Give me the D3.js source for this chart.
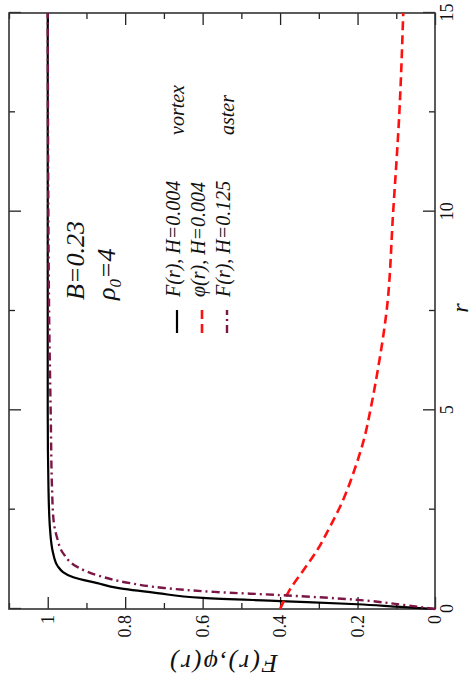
<!DOCTYPE html>
<html lang="en">
<head>
  <meta charset="UTF-8">
  <title>F(r), phi(r) profiles</title>
  <script src="https://d3js.org/d3.v7.min.js"></script>
  <style>
    body { margin: 0; background: #fff; }
    svg text { font-family: "Liberation Serif", "Times New Roman", serif; fill: #111; }
  </style>
</head>
<body>
  <div id="chart"></div>

  <script>
  // vortex, H=0.004 : F(r)
  const rVortex = [0, 0.06, 0.12, 0.2, 0.28, 0.4, 0.53, 0.65, 0.8, 1.06, 1.4, 2.0, 3.0, 5.0, 15];
  const fVortex = [0, 0.1, 0.2, 0.4, 0.6, 0.717, 0.82, 0.872, 0.934, 0.973, 0.986, 0.994, 0.998, 1.0, 1.0];

  // vortex, H=0.004 : phi(r)
  const rPhi = [0, 0.5, 1.0, 1.5, 2.0, 2.75, 3.5, 4.4, 5, 6, 7.5, 10, 12.5, 15];
  const phiVals = [0.40, 0.374, 0.338, 0.303, 0.275, 0.237, 0.208, 0.18, 0.167, 0.148, 0.125, 0.108, 0.092, 0.082];

  // aster, H=0.125 : F(r)
  const rAster = [0, 0.1, 0.23, 0.35, 0.43, 0.53, 0.65, 0.85, 1.06, 1.4, 1.8, 2.24, 3.07, 4.75, 8, 15];
  const fAster = [0, 0.08, 0.2, 0.4, 0.57, 0.70, 0.787, 0.872, 0.924, 0.96, 0.976, 0.985, 0.989, 0.992, 0.997, 1.0];

  const rMajor = [0, 5, 10, 15];
  const rMinor = [2.5, 7.5, 12.5];
  const fMajor = [0, 0.2, 0.4, 0.6, 0.8, 1];
  const fMinor = [0.1, 0.3, 0.5, 0.7, 0.9, 1.1];

  const legendLabels = ["F(r), H=0.004", "\u03c6(r), H=0.004", "F(r), H=0.125"];

  // the whole figure is drawn as a normal plot and then turned 90deg ccw
  const W = 596, H = 426;
  const svg = d3.select("#chart").append("svg")
    .attr("width", 474).attr("height", 686);

  const g = svg.append("g").attr("transform", "translate(9,609) rotate(-90)");

  const x = d3.scaleLinear().domain([0, 15]).range([0, W]);
  const y = d3.scaleLinear().domain([0, 1.1]).range([H, 0]);

  function ticks(axis, vals, size, labels) {
    return axis.tickValues(vals).tickSizeInner(-size).tickSizeOuter(0)
      .tickFormat(labels ? d3.format("~g") : "");
  }

  // bottom, top, left, right  (mirror ticks, labels only on bottom + left)
  const makers = [
    [() => d3.axisBottom(x), `translate(0,${H})`, 5, rMajor, rMinor, true],
    [() => d3.axisTop(x), "translate(0,0)", 5, rMajor, rMinor, false],
    [() => d3.axisLeft(y), "translate(0,0)", 6, fMajor, fMinor, true],
    [() => d3.axisRight(y), `translate(${W},0)`, 6, fMajor, fMinor, false]
  ];
  makers.forEach(([mk, tr, pad, maj, min, labels]) => {
    g.append("g").attr("transform", tr)
      .call(ticks(mk(), maj, 12, labels).tickPadding(pad));
    g.append("g").attr("transform", tr)
      .call(ticks(mk(), min, 6, false));
  });
  g.selectAll(".domain").remove();
  g.selectAll(".tick line").attr("stroke", "#222").attr("stroke-width", 1.3);
  g.selectAll(".tick text").attr("font-size", 18).attr("font-family", "Liberation Serif, serif").attr("fill", "#111");

  g.append("rect").attr("width", W).attr("height", H)
    .attr("fill", "none").attr("stroke", "#333").attr("stroke-width", 1.6);

  const line = d3.line().x(d => x(d[0])).y(d => y(d[1])).curve(d3.curveMonotoneX);

  const series = [
    { r: rVortex, v: fVortex, color: "#000000", width: 2.2, dash: null },
    { r: rPhi, v: phiVals, color: "#ff1010", width: 2.6, dash: "9,5" },
    { r: rAster, v: fAster, color: "#7b1646", width: 2.4, dash: "8,4,2,4" }
  ];

  series.forEach(s => {
    g.append("path")
      .datum(d3.zip(s.r, s.v))
      .attr("fill", "none")
      .attr("stroke", s.color)
      .attr("stroke-width", s.width)
      .attr("stroke-dasharray", s.dash)
      .attr("d", line);
  });

  // legend
  const leg = g.append("g");
  series.forEach((s, i) => {
    const ly = 168 + i * 25;
    leg.append("line")
      .attr("x1", 276).attr("x2", 299).attr("y1", ly).attr("y2", ly)
      .attr("stroke", s.color).attr("stroke-width", s.width)
      .attr("stroke-dasharray", s.dash);
    leg.append("text")
      .attr("x", 312).attr("y", ly + 3)
      .attr("font-size", 20).attr("font-style", "italic")
      .text(legendLabels[i]);
  });
  leg.append("text").attr("x", 474).attr("y", 175)
    .attr("font-size", 20).attr("font-style", "italic").text("vortex");
  leg.append("text").attr("x", 474).attr("y", 225)
    .attr("font-size", 20).attr("font-style", "italic").text("aster");

  // parameters
  g.append("text").attr("x", 309).attr("y", 75)
    .attr("font-size", 26).attr("font-style", "italic").text("B=0.23");
  const rho = g.append("text").attr("x", 309).attr("y", 106)
    .attr("font-size", 26).attr("font-style", "italic");
  rho.append("tspan").text("\u03c1");
  rho.append("tspan").attr("font-size", 17).attr("dy", 6).text("0");
  rho.append("tspan").attr("dy", -6).text("=4");

  // axis titles
  g.append("text").attr("x", 301).attr("y", 459)
    .attr("text-anchor", "middle").attr("font-size", 24).attr("font-style", "italic")
    .text("r");
  g.append("text")
    .attr("transform", "translate(-46,214) rotate(-90)")
    .attr("text-anchor", "middle").attr("font-size", 26).attr("font-style", "italic")
    .attr("letter-spacing", 2)
    .text("F(r),\u03c6(r)");
  </script>
</body>
</html>
